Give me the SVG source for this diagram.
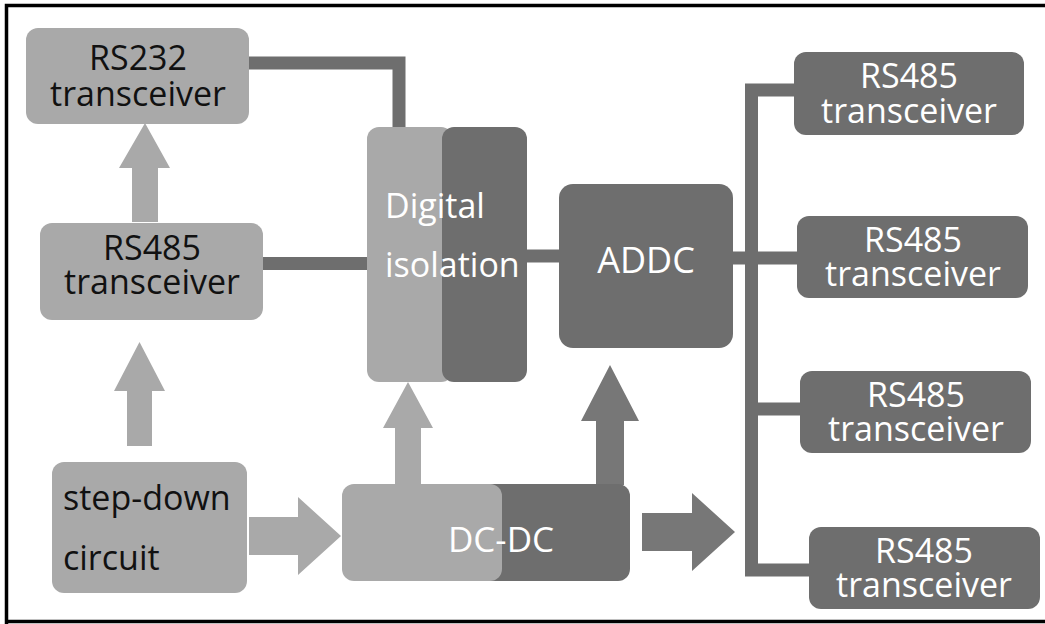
<svg xmlns="http://www.w3.org/2000/svg" width="1045" height="624" viewBox="0 0 1045 624">
<style>
.t{font-family:"Open Sans","Noto Sans","DejaVu Sans",sans-serif;font-size:34px}
.dk{fill:#6e6e6e}
.lt{fill:#a9a9a9}
.ar{fill:#777777}
.w{fill:#ffffff}
.b{fill:#111111}
.m{text-anchor:middle}
.cn{fill:none;stroke:#6e6e6e;stroke-width:13;stroke-linejoin:miter}
</style>
<rect x="0" y="0" width="1045" height="624" fill="#ffffff"/>
<g id="frame" stroke="#000" stroke-width="3.5" fill="none">
<path d="M6.5,624 V5.5 H1045"/>
<path d="M5,621.5 H1045"/>
</g>
<g id="connectors">
<path class="cn" d="M249,63 H399 V127"/>
<path class="cn" d="M263,263.5 H367"/>
<path class="cn" d="M527,256 H559"/>
<path class="cn" d="M794,90 H751.5 V570 H809"/>
<path class="cn" d="M733,258 H797"/>
<path class="cn" d="M751.5,409 H801"/>
<polygon class="lt" points="132,222 132,168 119,168 145,123 170,168 158,168 158,222"/>
<polygon class="lt" points="127,446 127,391 114,391 139.5,342 165,391 152,391 152,446"/>
<polygon class="lt" points="249,517 298,517 298,497 341,536 298,575 298,555 249,555"/>
<polygon class="lt" points="395,485 395,428 383,428 408,382 433,428 421,428 421,485"/>
<polygon class="ar" points="596,485 596,421 581,421 610,365 639,421 624,421 624,485"/>
<polygon class="ar" points="642,513 692,513 692,493 735,532 692,571 692,551 642,551"/>
</g>
<g id="rs232">
<rect class="lt" x="26" y="28" width="223" height="96" rx="12"/>
<text class="t b m" x="138" y="70">RS232</text>
<text class="t b m" x="138" y="106">transceiver</text>
</g>
<g id="rs485-left">
<rect class="lt" x="40" y="223" width="223" height="97" rx="12"/>
<text class="t b m" x="152" y="260">RS485</text>
<text class="t b m" x="152" y="294">transceiver</text>
</g>
<g id="step-down">
<rect class="lt" x="52" y="462" width="195" height="131" rx="12"/>
<text class="t b" x="63" y="510">step-down</text>
<text class="t b" x="63" y="570">circuit</text>
</g>
<g id="digital-isolation">
<rect class="lt" x="367" y="127" width="86" height="255" rx="12"/>
<rect class="dk" x="442" y="127" width="85" height="255" rx="12"/>
<text class="t w" x="385" y="218">Digital</text>
<text class="t w" x="385" y="277">isolation</text>
</g>
<g id="addc">
<rect class="dk" x="559" y="184" width="174" height="164" rx="14"/>
<text class="t w m" x="646" y="273" style="font-size:36px">ADDC</text>
</g>
<g id="dc-dc">
<rect class="dk" x="480" y="484" width="150" height="97" rx="12"/>
<rect class="lt" x="342" y="484" width="160" height="97" rx="12"/>
<text class="t w m" x="501" y="552" style="font-size:35px">DC-DC</text>
</g>
<g id="rs485-1">
<rect class="dk" x="794" y="52" width="230" height="83" rx="12"/>
<text class="t w m" x="909" y="88">RS485</text>
<text class="t w m" x="909" y="123">transceiver</text>
</g>
<g id="rs485-2">
<rect class="dk" x="797" y="216" width="231" height="82" rx="12"/>
<text class="t w m" x="913" y="252">RS485</text>
<text class="t w m" x="913" y="286">transceiver</text>
</g>
<g id="rs485-3">
<rect class="dk" x="800" y="371" width="231" height="82" rx="12"/>
<text class="t w m" x="916" y="407">RS485</text>
<text class="t w m" x="916" y="441">transceiver</text>
</g>
<g id="rs485-4">
<rect class="dk" x="809" y="527" width="231" height="82" rx="12"/>
<text class="t w m" x="924" y="563">RS485</text>
<text class="t w m" x="924" y="597">transceiver</text>
</g>
</svg>
